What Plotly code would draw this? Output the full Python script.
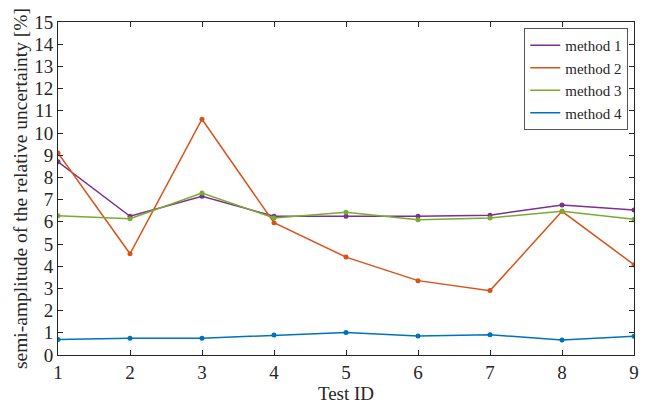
import plotly.graph_objects as go

test_ids = [1, 2, 3, 4, 5, 6, 7, 8, 9]
method_1 = [8.70, 6.25, 7.15, 6.25, 6.25, 6.25, 6.30, 6.76, 6.53]
method_2 = [9.10, 4.56, 10.62, 5.96, 4.41, 3.35, 2.90, 6.47, 4.07]
method_3 = [6.27, 6.14, 7.30, 6.17, 6.43, 6.09, 6.17, 6.48, 6.11]
method_4 = [0.70, 0.76, 0.76, 0.90, 1.01, 0.86, 0.91, 0.68, 0.85]

series_names = ["method 1", "method 2", "method 3", "method 4"]
series_values = [method_1, method_2, method_3, method_4]
series_colors = ["#7E2F8E", "#D95319", "#77AC30", "#0072BD"]

font_family = "Liberation Serif"
axis_color = "#262626"

fig = go.Figure()
for name, vals, color in zip(series_names, series_values, series_colors):
    # line (shown in legend as a plain line sample)
    fig.add_trace(go.Scatter(
        x=test_ids, y=vals, name=name, mode="lines",
        line=dict(color=color, width=1.5),
    ))
    # point markers on the same data
    fig.add_trace(go.Scatter(
        x=test_ids, y=vals, name=name, mode="markers",
        marker=dict(color=color, size=5), showlegend=False,
    ))

axis_common = dict(
    showline=True, linecolor=axis_color, linewidth=1, mirror="ticks",
    ticks="inside", ticklen=5, tickcolor=axis_color,
    showgrid=False, zeroline=False,
    tickfont=dict(family=font_family, size=19, color=axis_color),
)

fig.update_layout(
    width=652, height=410,
    margin=dict(l=58, r=18, t=21, b=47),
    paper_bgcolor="white", plot_bgcolor="white",
    font=dict(family=font_family, color=axis_color),
    xaxis=dict(
        range=[1, 9], tickvals=test_ids, **axis_common,
        title=dict(text="Test ID", font=dict(family=font_family, size=19, color=axis_color), standoff=2),
    ),
    yaxis=dict(
        range=[0, 15], tickvals=list(range(0, 16)), **axis_common,
        title=dict(text="semi-amplitude of the relative uncertainty [%]",
                   font=dict(family=font_family, size=19.5, color=axis_color), standoff=1),
    ),
    legend=dict(
        x=0.99, y=0.982, xanchor="right", yanchor="top",
        bordercolor="#555555", borderwidth=1, bgcolor="white",
        font=dict(family=font_family, size=15, color=axis_color),
        itemwidth=30, tracegroupgap=0,
    ),
    showlegend=True,
)

fig.write_html("out.html")
